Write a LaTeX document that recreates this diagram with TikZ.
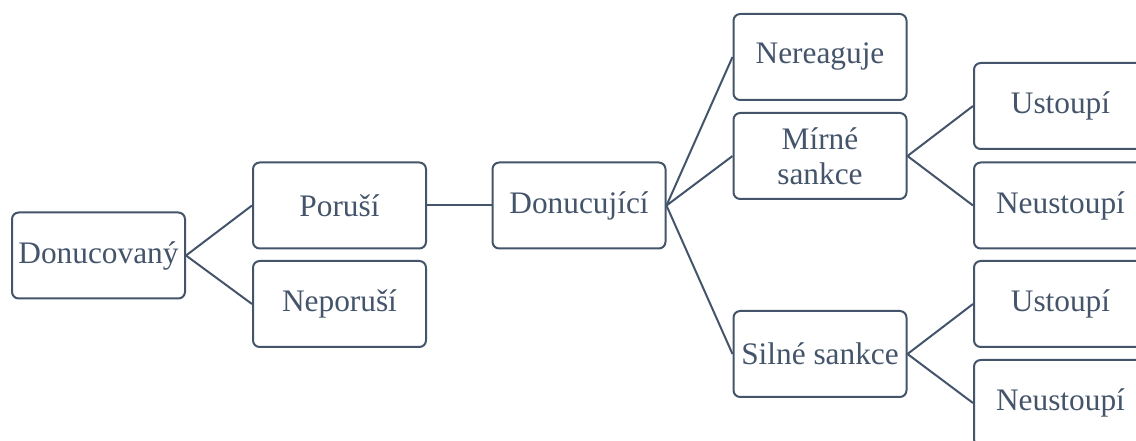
\documentclass[tikz,border=0pt]{standalone}
\usepackage{fontspec}
\setmainfont{Liberation Serif}
\usepackage{tikz}
\definecolor{slate}{HTML}{44546A}

\begin{document}
\begin{tikzpicture}[x=0.75pt,y=-0.75pt,
  box/.style={draw=slate,line width=1.5pt,rounded corners=5pt,fill=white,text=slate,
    minimum width=129.75pt,minimum height=64.5pt,inner sep=0pt,align=center,
    font=\fontsize{23.5}{26}\selectfont},
  link/.style={draw=slate,line width=1.5pt}]
\useasboundingbox (0,0) rectangle (1136,441);
\clip (0,0) rectangle (1136,441);
\node[box] (donucovany) at (98.5,255.5) {Donucovan\'y};
\node[box] (porusi) at (339.5,205.5) {Poru\v{s}\'i};
\node[box] (neporusi) at (339.5,304) {Neporu\v{s}\'i};
\node[box] (donucujici) at (579,205.5) {Donucuj\'ic\'i};
\node[box] (nereaguje) at (820,57) {Nereaguje};
\node[box] (mirne) at (820,156) {M\'irn\'e\\sankce};
\node[box] (silne) at (820,354) {Siln\'e sankce};
\node[box] (ustoupi1) at (1060.5,106) {Ustoup\'i};
\node[box] (neustoupi1) at (1060.5,205.5) {Neustoup\'i};
\node[box] (ustoupi2) at (1060.5,304) {Ustoup\'i};
\node[box] (neustoupi2) at (1060.5,403) {Neustoup\'i};
\draw[link] (donucovany.east) -- (porusi.west);
\draw[link] (donucovany.east) -- (neporusi.west);
\draw[link] (porusi.east) -- (donucujici.west);
\draw[link] (donucujici.east) -- (nereaguje.west);
\draw[link] (donucujici.east) -- (mirne.west);
\draw[link] (donucujici.east) -- (silne.west);
\draw[link] (mirne.east) -- (ustoupi1.west);
\draw[link] (mirne.east) -- (neustoupi1.west);
\draw[link] (silne.east) -- (ustoupi2.west);
\draw[link] (silne.east) -- (neustoupi2.west);
\end{tikzpicture}
\end{document}
